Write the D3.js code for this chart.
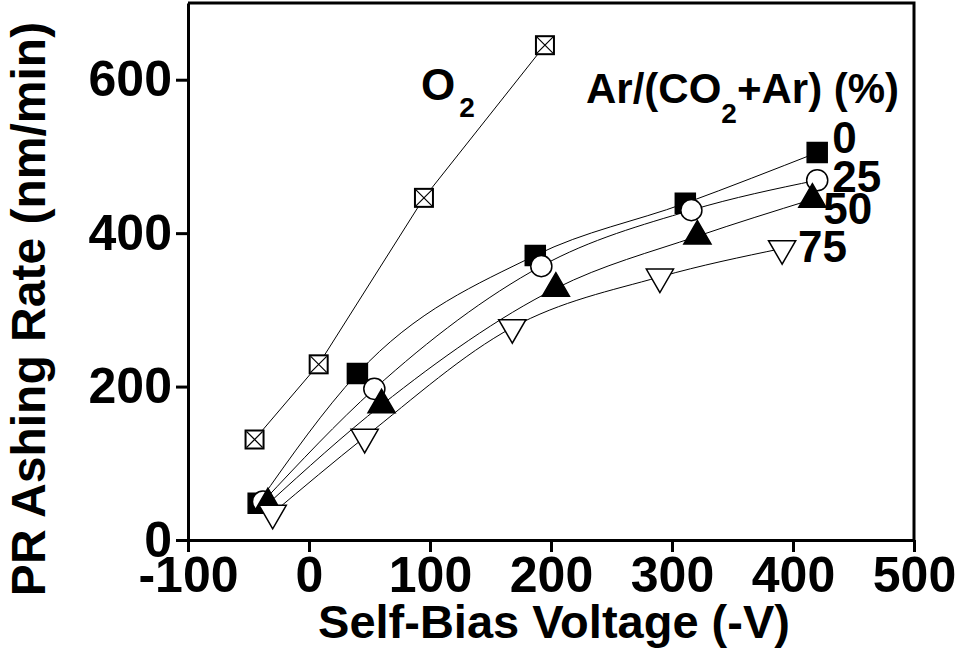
<!DOCTYPE html>
<html>
<head>
<meta charset="utf-8">
<script src="https://cdn.jsdelivr.net/npm/d3@7"></script>
<style>
  body { margin: 0; background: #fff; }
  svg text { font-family: "Liberation Sans", Arial, sans-serif; font-weight: bold; fill: #000; }
</style>
</head>
<body>
<div id="chart"></div>
<script>
// self-bias voltage (-V) vs ashing rate (nm/min)
const o2X = [-45, 8, 95, 195];
const o2Y = [131, 229, 446, 645];

const ar0X = [-42, 40, 187, 311, 420];
const ar0Y = [48, 217, 371, 439, 505];
const ar25X = [-38, 54, 192, 316, 420];
const ar25Y = [50, 197, 357, 430, 469];
const ar50X = [-34, 60, 204, 321, 416];
const ar50Y = [47, 176, 328, 396, 444];
const ar75X = [-30, 46, 168, 290, 391];
const ar75Y = [35, 134, 277, 343, 380];

const xTicks = [-100, 0, 100, 200, 300, 400, 500];
const yTicks = [0, 200, 400, 600];

const W = 960, H = 668;
const margin = {left: 188, right: 46, top: 3, bottom: 128};

let svg = d3.select('#chart').append('svg')
  .attr('width', W)
  .attr('height', H);

let x = d3.scaleLinear().domain([-100, 500]).range([margin.left, W - margin.right]);
let y = d3.scaleLinear().domain([0, 700]).range([H - margin.bottom, margin.top]);

const zip = (xs, ys) => xs.map((v, i) => ({x: v, y: ys[i]}));
let series = [
  {label: '0', data: zip(ar0X, ar0Y), shape: 'square', fill: '#000', lx: 15, ly: 0},
  {label: '25', data: zip(ar25X, ar25Y), shape: 'circle', fill: '#fff', lx: 15, ly: 12},
  {label: '50', data: zip(ar50X, ar50Y), shape: 'triangle', fill: '#000', lx: 11, ly: 25},
  {label: '75', data: zip(ar75X, ar75Y), shape: 'down', fill: '#fff', lx: 16, ly: 14}
];

// frame (top and right)
svg.append('path')
  .attr('d', `M${x(-100)},${y(700)}H${x(500)}V${y(0)}`)
  .attr('fill', 'none')
  .attr('stroke', '#000')
  .attr('stroke-width', 3);

// O2 straight line
let line = d3.line()
  .x(d => x(d.x))
  .y(d => y(d.y));

svg.append('path')
  .datum(zip(o2X, o2Y))
  .attr('d', line)
  .attr('fill', 'none')
  .attr('stroke', '#000')
  .attr('stroke-width', 1);

let smooth = d3.line()
  .x(d => x(d.x))
  .y(d => y(d.y))
  .curve(d3.curveMonotoneX);

svg.selectAll('.fit')
  .data(series)
  .enter().append('path')
  .attr('class', 'fit')
  .attr('d', d => smooth(d.data))
  .attr('fill', 'none')
  .attr('stroke', '#000')
  .attr('stroke-width', 1);

// O2 markers: crossed squares
let o2g = svg.selectAll('.o2pt')
  .data(zip(o2X, o2Y))
  .enter().append('g')
  .attr('class', 'o2pt')
  .attr('transform', d => `translate(${x(d.x)},${y(d.y)})`);
o2g.append('rect')
  .attr('x', -9).attr('y', -9).attr('width', 18).attr('height', 18)
  .attr('fill', '#fff').attr('stroke', '#000').attr('stroke-width', 2);
o2g.append('path')
  .attr('d', 'M-8,-8L8,8M8,-8L-8,8')
  .attr('stroke', '#000').attr('stroke-width', 1.2);

const shapes = {
  square: d3.symbol().type(d3.symbolSquare).size(400),
  circle: d3.symbol().type(d3.symbolCircle).size(350),
  triangle: d3.symbol().type(d3.symbolTriangle).size(320),
  down: d3.symbol().type(d3.symbolTriangle).size(320)
};

series.forEach(s => {
  svg.selectAll('.pt-' + s.label)
    .data(s.data)
    .enter().append('path')
    .attr('class', 'pt-' + s.label)
    .attr('d', shapes[s.shape])
    .attr('transform', d => `translate(${x(d.x)},${y(d.y)})` + (s.shape === 'down' ? ' rotate(180)' : ''))
    .attr('fill', s.fill)
    .attr('stroke', '#000')
    .attr('stroke-width', 1.5);

  let last = s.data[s.data.length - 1];
  svg.append('text')
    .attr('x', x(last.x) + s.lx)
    .attr('y', y(last.y) + s.ly)
    .attr('font-size', 44)
    .text(s.label);
});

// axes
let xAxis = svg.append('g')
  .attr('transform', `translate(0,${y(0)})`)
  .call(d3.axisBottom(x).tickValues(xTicks).tickFormat(d => String(d)).tickSize(12).tickPadding(4).tickSizeOuter(0));
let yAxis = svg.append('g')
  .attr('transform', `translate(${x(-100)},0)`)
  .call(d3.axisLeft(y).tickValues(yTicks).tickFormat(d => String(d)).tickSize(12).tickPadding(4).tickSizeOuter(0));

[xAxis, yAxis].forEach(a => {
  a.select('.domain').attr('stroke-width', 3);
  a.selectAll('.tick line').attr('stroke-width', 3);
  a.selectAll('.tick text')
    .attr('font-size', 50)
    .attr('font-family', '"Liberation Sans", Arial, sans-serif')
    .attr('font-weight', 'bold');
});

// titles
svg.append('text')
  .attr('x', 554)
  .attr('y', 638)
  .attr('text-anchor', 'middle')
  .attr('font-size', 47)
  .text('Self-Bias Voltage (-V)');

svg.append('text')
  .attr('transform', 'rotate(-90)')
  .attr('x', -309)
  .attr('y', 45)
  .attr('text-anchor', 'middle')
  .attr('font-size', 48)
  .text('PR Ashing Rate (nm/min)');

// in-plot labels
let o2Label = svg.append('text')
  .attr('x', 421)
  .attr('y', 100)
  .attr('font-size', 44);
o2Label.append('tspan').text('O');
o2Label.append('tspan').attr('font-size', 28).attr('dx', 4).attr('dy', 17).text('2');

let arLabel = svg.append('text')
  .attr('x', 586)
  .attr('y', 103)
  .attr('font-size', 42);
arLabel.append('tspan').text('Ar/(CO');
arLabel.append('tspan').attr('font-size', 28).attr('dy', 20).text('2');
arLabel.append('tspan').attr('dy', -20).text('+Ar) (%)');
</script>
</body>
</html>
